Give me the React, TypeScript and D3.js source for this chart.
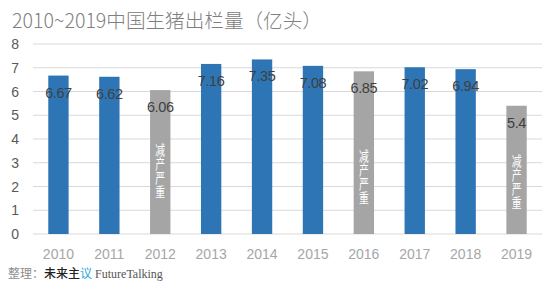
import React from "react";
import * as d3 from "d3";

const years = ["2010","2011","2012","2013","2014","2015","2016","2017","2018","2019"];
const values = [6.67, 6.62, 6.06, 7.16, 7.35, 7.08, 6.85, 7.02, 6.94, 5.4];
const reduced = [false, false, true, false, false, false, true, false, false, true];
const yTicks = [0, 1, 2, 3, 4, 5, 6, 7, 8];
const noteText = "减产严重";
const noteCenters: Record<string, number> = { "2012": 2.65, "2016": 2.4, "2019": 2.2 };
const title = "2010~2019中国生猪出栏量（亿头）";

const W = 556, H = 293;
const left = 33, right = 542, top = 44, bottom = 234;

export default function App() {
  const x = d3.scaleBand<string>().domain(years).range([left, right]).paddingInner(0.6).paddingOuter(0.3);
  const y = d3.scaleLinear().domain([0, 8]).range([bottom, top]);
  return (
    <svg width={W} height={H} style={{ position: "fixed", left: 0, top: 0, background: "#fff" }}>
      <rect width={W} height={H} fill="#fff" />
      <text x={12} y={28} fontFamily="'Noto Sans CJK SC', sans-serif" fontSize={19.6} fontWeight={300} fill="#808080">{title}</text>
      {yTicks.map((t) => (
        <g key={t}>
          <line x1={left} x2={right} y1={y(t)} y2={y(t)} stroke="#d9d9d9" strokeWidth={1} />
          <text x={19} y={y(t) + 5} textAnchor="end" fontFamily="'Liberation Sans', sans-serif" fontSize={14} fill="#595959">{t}</text>
        </g>
      ))}
      {years.map((yr, i) => {
        const bx = x(yr)!;
        const bw = x.bandwidth();
        const cx = bx + bw / 2;
        const v = values[i];
        return (
          <g key={yr}>
            <rect x={bx} y={y(v)} width={bw} height={bottom - y(v)} fill={reduced[i] ? "#a5a5a5" : "#2e75b6"} />
            <text x={cx} y={y(v) + 22} textAnchor="middle" fontFamily="'Liberation Sans', sans-serif" fontSize={14.5} letterSpacing={-0.4} fill="#404040">{v}</text>
            {reduced[i] && (
              <text
                transform={`translate(${cx},${y(noteCenters[yr])}) scale(0.7,1)`}
                textAnchor="middle"
                style={{ writingMode: "vertical-rl" as any }}
                fontFamily="'Noto Sans CJK SC', sans-serif"
                fontSize={14}
                fill="#ffffff"
              >{noteText}</text>
            )}
            <text x={cx} y={259} textAnchor="middle" fontFamily="'Liberation Sans', sans-serif" fontSize={14} fill="#a6a6a6">{yr}</text>
          </g>
        );
      })}
      <text x={8} y={278} fontSize={12}>
        <tspan fontFamily="'Noto Sans CJK SC', sans-serif" fill="#8c8c8c">整理：</tspan>
        <tspan fontFamily="'Noto Sans CJK SC', sans-serif" fill="#222" fontWeight={500}>未来主</tspan>
        <tspan fontFamily="'Noto Sans CJK SC', sans-serif" fill="#2aa7dc">议</tspan>
        <tspan fontFamily="'Liberation Serif', serif" fill="#555" dx={3}>FutureTalking</tspan>
      </text>
    </svg>
  );
}
